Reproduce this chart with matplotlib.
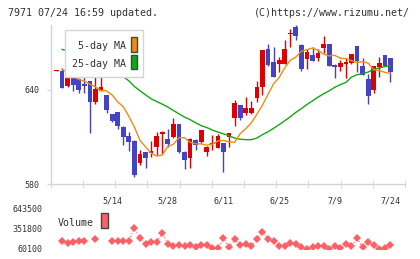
import numpy as np
import matplotlib
matplotlib.use("Agg")
import matplotlib.pyplot as plt
from matplotlib.patches import Rectangle

W, H = 420, 259
nan = np.nan

# daily candles (slot 0..60)
opens = [651.8, 651.6, 642.3, 649.5, 646.5, 643.4, 645.3, 632.1, 639.4, 636.4,
         624.5, 625.6, 616.3, 610.4, 607.2, 593.5, 600.3, 599.6, 603.6, 612.1,
         609.0, 610.0, 618.0, 600.5, 596.7, 608.3, 606.8, 600.5, 605.6, 603.0,
         606.0, 610.0, 622.0, 630.0, 625.0, 625.0, 634.7, 641.6, 665.5, 657.5,
         656.2, 656.2, 675.3, 679.7, 668.5, 659.6, 662.2, 660.3, 666.4, 668.7,
         655.4, 654.3, 656.0, 656.9, 667.4, 654.8, 646.5, 639.6, 654.3, 661.7,
         659.8]
highs = [652.4, 653.7, 652.0, 649.8, 647.6, 648.4, 645.6, 648.4, 652.2, 636.6,
         624.8, 625.8, 616.8, 613.0, 608.0, 601.5, 600.5, 607.2, 613.1, 613.8,
         615.3, 622.0, 618.2, 600.8, 609.5, 608.5, 614.5, 604.5, 611.0, 612.1,
         606.2, 612.5, 633.2, 630.5, 635.3, 632.6, 645.3, 665.2, 668.7, 666.8,
         660.5, 671.2, 678.2, 680.7, 669.0, 665.5, 666.8, 665.5, 673.8, 669.0,
         656.5, 658.6, 660.3, 662.6, 667.6, 659.8, 649.7, 655.0, 660.5, 662.0,
         660.0]
lows = [651.8, 641.0, 642.0, 639.1, 637.8, 637.7, 612.5, 630.7, 639.4, 625.2,
        619.8, 615.3, 604.7, 601.0, 584.4, 592.0, 590.3, 597.5, 598.4, 599.4,
        603.6, 609.5, 599.6, 589.9, 590.3, 601.5, 606.5, 597.8, 601.5, 603.0,
        587.8, 603.6, 617.0, 620.7, 623.7, 624.7, 632.1, 636.4, 654.8, 647.8,
        651.2, 656.0, 667.0, 671.2, 651.8, 653.3, 658.0, 658.4, 663.4, 654.8,
        647.4, 651.6, 647.4, 656.5, 651.2, 649.0, 630.7, 637.8, 648.0, 654.8,
        644.8]
closes = [652.4, 641.0, 651.6, 642.7, 639.7, 642.3, 632.1, 640.2, 641.5, 627.1,
          620.1, 616.9, 610.0, 606.8, 585.7, 599.0, 596.9, 600.9, 610.4, 613.1,
          605.5, 618.0, 600.5, 595.7, 609.0, 604.7, 614.2, 603.6, 606.0, 610.4,
          600.5, 612.3, 631.3, 622.0, 628.2, 628.2, 641.5, 664.9, 655.8, 648.0,
          658.6, 665.5, 675.7, 674.0, 653.0, 663.8, 658.1, 663.4, 668.7, 655.0,
          654.3, 656.9, 657.3, 662.4, 658.1, 649.1, 635.9, 654.8, 656.9, 655.0,
          651.2]

ma5 = [nan, 653.0, 651.0, 648.5, 646.5, 645.4, 643.5, 641.7, 639.4, 639.2,
       636.6, 632.2, 629.2, 623.1, 616.2, 607.9, 603.7, 599.7, 597.9, 598.6,
       604.1, 605.4, 609.6, 609.5, 606.6, 605.7, 605.6, 604.8, 605.4, 607.5,
       607.8, 606.9, 606.6, 612.1, 615.3, 618.9, 624.4, 630.2, 637.0, 643.7,
       647.7, 653.8, 658.6, 660.7, 664.4, 665.4, 666.4, 664.9, 662.5, 661.4,
       661.8, 659.9, 659.7, 658.4, 657.2, 657.8, 656.8, 652.6, 652.1, 651.0,
       650.3]
ma25 = [nan, 665.5, 664.6, 663.6, 662.5, 661.3, 660.0, 658.5, 656.8, 654.9,
        652.8, 650.6, 648.3, 645.6, 642.0, 639.3, 636.7, 634.2, 632.5, 630.8,
        629.0, 626.8, 624.7, 622.6, 621.0, 619.0, 617.2, 616.0, 614.4, 613.1,
        612.0, 610.8, 609.3, 608.6, 608.3, 608.3, 609.3, 611.5, 613.3, 615.5,
        617.8, 620.3, 622.8, 625.6, 628.0, 630.6, 632.9, 635.3, 637.4, 639.3,
        641.5, 643.2, 644.6, 648.0, 649.5, 650.1, 651.2, 652.9, 653.8, 654.6,
        655.2]
volume = [nan, 184000, 143000, 166000, 177000, 184000, nan, 209000, nan, nan,
          174000, 181000, 174000, 184000, 366000, 216000, 136000, 155000, 162000, 294000,
          133000, 107000, 121000, 107000, 121000, 92000, 118000, 118000, 70000, 70000,
          216000, 82000, 202000, 118000, 133000, 100000, 202000, 315000, 206000, 177000,
          104000, 111000, 152000, 137000, 82000, 60100, 82000, 104000, 111000, 62000,
          104000, 70000, 133000, 104000, 216000, 82000, 158000, 118000, 62000, 70000,
          118000]

date_pos = [10, 20, 30, 40, 50, 60]
date_labels = ["5/14", "5/28", "6/11", "6/25", "7/9", "7/24"]
price_ticks = [580, 640]
vol_ticks = [60100, 351800, 643500]

RED = "#dd0000"
BLUE = "#4343c3"
ORANGE = "#f08c10"
GREEN = "#10aa10"
VOLC = "#ff6066"
GRID = "#d4d4d4"
TXT = "#333333"

plt.rcParams['font.family'] = ['DejaVu Sans Mono']


def fx(x):
    return x / W


def fy(y):
    return 1 - y / H


fig = plt.figure(figsize=(W / 100, H / 100), dpi=100)
left, right = 50.7, 405.0
x0, step = 56.5, 5.566
xmin, xmax = (left - x0) / step, (right - x0) / step

# price panel
ax = fig.add_axes([fx(left), fy(184.3), fx(right) - fx(left), fy(25) - fy(184.3)])
ax.set_xlim(xmin, xmax)
ax.set_ylim(580, 681)

x = np.arange(len(opens))
o = np.array(opens)
c = np.array(closes)
colors = [RED if cc >= oo else BLUE for oo, cc in zip(o, c)]
body = np.maximum(np.abs(c - o), 0.8)
ax.vlines(x, lows, highs, colors=colors, lw=1, zorder=2)
ax.bar(x, body, bottom=np.minimum(o, c), width=0.85, color=colors, lw=0, zorder=3)
ax.plot(x, ma25, color=GREEN, lw=1, zorder=4)
ax.plot(x, ma5, color=ORANGE, lw=1, zorder=4)

for s in ["top", "right"]:
    ax.spines[s].set_visible(False)
for s in ["left", "bottom"]:
    ax.spines[s].set_color(GRID)
    ax.spines[s].set_linewidth(1)

ax.set_yticks(price_ticks)
ax.set_yticklabels([str(v) for v in price_ticks])
ax.tick_params(axis="y", length=3, color=GRID, labelsize=6, labelcolor=TXT, pad=5)
ax.set_xticks(date_pos)
ax.set_xticklabels(date_labels)
ax.set_xticks(np.linspace(xmin, xmax, 12), minor=True)
ax.tick_params(axis="x", which="major", length=0, labelsize=6, labelcolor=TXT, pad=9)
ax.tick_params(axis="x", which="minor", length=6, direction="inout", color=GRID)

# volume panel
vax = fig.add_axes([fx(left), fy(249), fx(right) - fx(left), fy(209) - fy(249)])
vax.set_xlim(xmin, xmax)
vax.set_ylim(60100, 643500)
vax.plot(x, volume, color=VOLC, lw=0.8, ls=":", marker="D", ms=3.6, mew=0, zorder=3)
for s in vax.spines.values():
    s.set_visible(False)
vax.set_xticks([])
vax.set_yticks(vol_ticks)
vax.set_yticklabels([str(v) for v in vol_ticks])
vax.tick_params(axis="y", length=0, labelsize=6, labelcolor=TXT, pad=6)

# legend of the price panel
fig.add_artist(Rectangle((fx(65), fy(77.3)), fx(143.3) - fx(65), fy(30) - fy(77.3),
                         transform=fig.transFigure, facecolor="white", edgecolor=GRID,
                         lw=1, zorder=10))
for label, col, ty, sy in [("5-day MA", ORANGE, 46.2, 51.7), ("25-day MA", GREEN, 63.8, 69.0)]:
    fig.text(fx(126), fy(ty), label, ha="right", va="center", fontsize=7.2,
             color=TXT, zorder=11)
    fig.add_artist(Rectangle((fx(131), fy(sy)), fx(6.3), fy(0) - fy(14.4),
                             transform=fig.transFigure, facecolor=col,
                             edgecolor="#444444", lw=1, zorder=11))

# legend of the volume panel
fig.text(fx(58), fy(222.5), "Volume", ha="left", va="center", fontsize=7.2, color=TXT)
fig.add_artist(Rectangle((fx(101), fy(228.3)), fx(6.7), fy(0) - fy(15),
                         transform=fig.transFigure, facecolor=VOLC,
                         edgecolor="#444444", lw=1, zorder=11))

fig.text(fx(8), fy(12.8), "7971 07/24 16:59 updated.", ha="left", va="center",
         fontsize=7.2, color=TXT)
fig.text(fx(410), fy(12.8), "(C)https://www.rizumu.net/", ha="right", va="center",
         fontsize=7.2, color=TXT)

fig.savefig("out.png", dpi=100)
